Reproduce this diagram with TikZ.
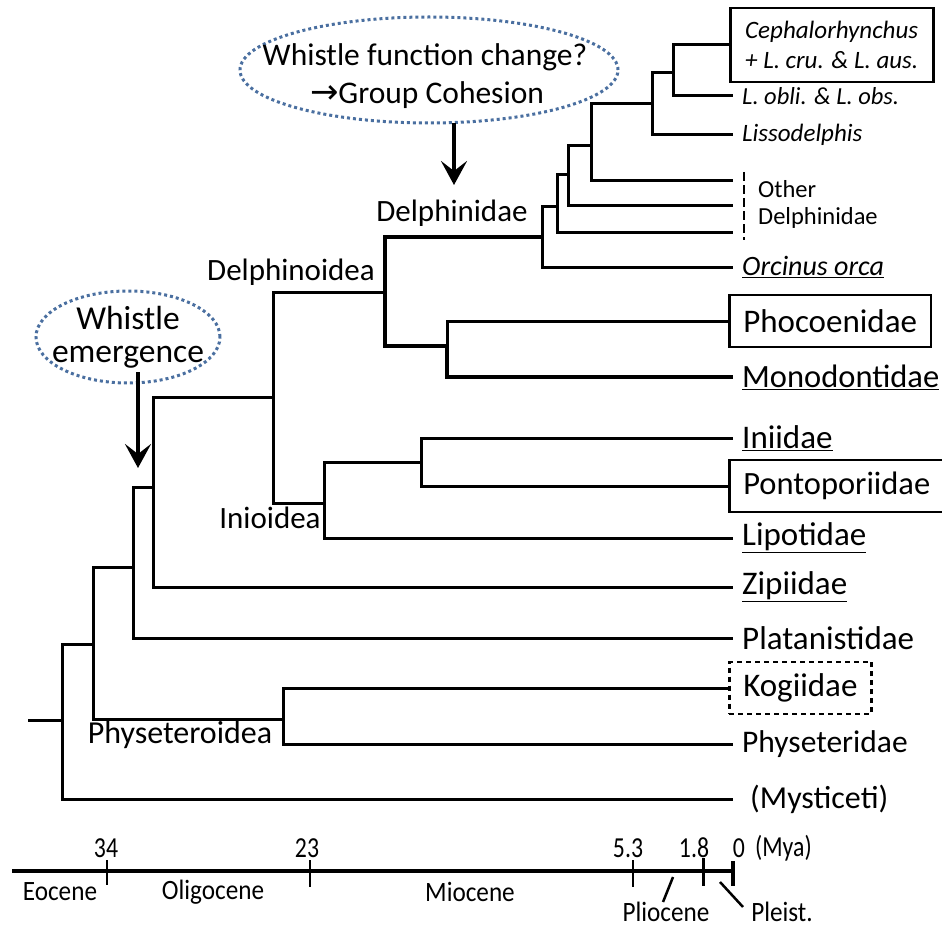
\documentclass[tikz,border=0pt]{standalone}
\usepackage{fontspec}
\usepackage{graphicx}
\setmainfont{Carlito}
\newfontfamily\djv{DejaVu Sans}
\usetikzlibrary{arrows.meta,shapes.geometric}
\definecolor{ellblue}{RGB}{74,111,160}
\newcommand{\ulx}[1]{\underline{#1}}
\begin{document}
\begin{tikzpicture}[x=1pt,y=-1pt,
  br/.style={line width=3pt, line join=miter},
  brk/.style={line width=4.5pt, line join=miter},
  lbl/.style={inner sep=0pt, font=\fontsize{31}{31}\selectfont},
  tipf/.style={anchor=west, inner xsep=9pt, inner ysep=0pt, font=\fontsize{33}{33}\selectfont},
  tips/.style={anchor=west, inner xsep=9pt, inner ysep=0pt, font=\fontsize{25}{25}\selectfont\itshape},
  boxf/.style={draw, line width=2.5pt, anchor=west, inner xsep=14pt, minimum height=52pt, font=\fontsize{33}{33}\selectfont},
  ell/.style={draw=ellblue, ellipse, line width=3pt, dash pattern=on 3pt off 3pt},
  bigarrow/.style={line width=4pt, -{Stealth[length=24pt, width=26pt, inset=10pt]}},
  axl/.style={inner sep=0pt, font=\fontsize{29}{29}\selectfont},
  epl/.style={inner sep=0pt, font=\fontsize{28}{28}\selectfont}]
\useasboundingbox (0,0) rectangle (942,928);

% internal nodes
\coordinate (root0) at (28,720);
\coordinate (R) at (62,720);
\coordinate (A) at (93,644);
\coordinate (P) at (283,719);
\coordinate (B) at (133,567);
\coordinate (C) at (153,487);
\coordinate (D) at (273,397);
\coordinate (E) at (385,292);
\coordinate (F) at (324,503);
\coordinate (G) at (542,237);
\coordinate (H) at (447,346);
\coordinate (I) at (421,462);
\coordinate (G1) at (557,207);
\coordinate (G2) at (568,175);
\coordinate (G3) at (591,146);
\coordinate (G4) at (652,104);
\coordinate (G5) at (673,73);
\coordinate (od1) at (733,232);
\coordinate (od2) at (733,206);
\coordinate (od3) at (733,181);

% tips
\node[draw, line width=2.5pt, anchor=west, minimum width=203pt, minimum height=74pt, align=left,
  font=\fontsize{25}{30}\selectfont\itshape] (ceph) at (729,45) {Cephalorhynchus\\+ L. cru. \& L. aus.};
\node[tips, font=\fontsize{24.5}{24.5}\selectfont\itshape] (lobli) at (733,96) {L. obli. \& L. obs.};
\node[tips] (liss) at (733,135) {Lissodelphis};
\node[tips, font=\fontsize{28}{28}\selectfont\itshape] (orca) at (733,267) {\ulx{Orcinus orca}};
\node[boxf] (phoc) at (728,321) {Phocoenidae};
\node[tipf, font=\fontsize{32.5}{32.5}\selectfont] (mono) at (733,377) {\ulx{Monodontidae}};
\node[tipf] (inii) at (733,438) {\ulx{Iniidae}};
\node[boxf, font=\fontsize{32.5}{32.5}\selectfont] (pont) at (728,486) {Pontoporiidae};
\node[tipf] (lipo) at (733,538) {\ulx{Lipotidae}};
\node[tipf] (zip) at (733,587) {\ulx{Zipiidae}};
\node[tipf] (plat) at (733,638) {Platanistidae};
\node[boxf, dash pattern=on 5pt off 4pt] (kog) at (728,688) {Kogiidae};
\node[tipf, font=\fontsize{31.5}{31.5}\selectfont] (phys) at (733,744) {Physeteridae};
\node[tipf, inner xsep=17pt, font=\fontsize{32}{32}\selectfont] (myst) at (733,799) {(Mysticeti)};

% other delphinidae bracket
\coordinate (brt) at (744,172);
\coordinate (brb) at (744,240);
\draw[line width=2.5pt, dash pattern=on 9pt off 4pt] (brt) -- (brb);
\node[anchor=west, inner sep=0pt, font=\fontsize{24.5}{24.5}\selectfont] (oth1) at (758,189) {Other};
\node[anchor=west, inner sep=0pt, font=\fontsize{24.5}{24.5}\selectfont] (oth2) at (758,218) {Delphinidae};

% branches
\draw[br] (root0) -- (R);
\draw[br] (R) |- (A);
\draw[br] (R) |- (myst.west);
\draw[br] (A) |- (B);
\draw[br] (A) |- (P);
\draw[br] (P) |- (kog.west);
\draw[br] (P) |- (phys.west);
\draw[br] (B) |- (C);
\draw[br] (B) |- (plat.west);
\draw[br] (C) |- (D);
\draw[br] (C) |- (zip.west);
\draw[br] (D) |- (E);
\draw[br] (D) |- (F);
\draw[brk] (E) |- (G);
\draw[brk] (E) |- (H);
\draw[br] (H) |- (phoc.west);
\draw[brk] (H) |- (mono.west);
\draw[br] (F) |- (I);
\draw[br] (F) |- (lipo.west);
\draw[br] (I) |- (inii.west);
\draw[br] (I) |- (pont.west);
\draw[br] (G) |- (G1);
\draw[br] (G) |- (orca.west);
\draw[br] (G1) |- (G2);
\draw[br] (G1) |- (od1);
\draw[br] (G2) |- (G3);
\draw[br] (G2) |- (od2);
\draw[br] (G3) |- (G4);
\draw[br] (G3) |- (od3);
\draw[br] (G4) |- (G5);
\draw[br] (G4) |- (liss.west);
\draw[br] (G5) |- (ceph.west);
\draw[br] (G5) |- (lobli.west);

% clade labels
\node[lbl] (ldelphinidae) at (452,213) {Delphinidae};
\node[lbl] (ldelphinoidea) at (291,272) {Delphinoidea};
\node[lbl] (linioidea) at (270,518) {Inioidea};
\node[lbl, font=\fontsize{32}{32}\selectfont] (lphyseteroidea) at (180,735) {Physeteroidea};

% ellipses
\node[ell, minimum width=184pt, minimum height=92pt] (e1) at (128,337) {};
\node[lbl, font=\fontsize{33.5}{33.5}\selectfont] (e1a) at (128,318) {Whistle};
\node[lbl, font=\fontsize{33.5}{33.5}\selectfont] (e1b) at (128,357) {emergence};
\coordinate (a1s) at (138,372);
\coordinate (a1e) at (138,468);
\draw[bigarrow] (a1s) -- (a1e);

\node[ell, minimum width=378pt, minimum height=106pt] (e2) at (429,70) {};
\node[lbl, font=\fontsize{31.5}{31.5}\selectfont] (e2a) at (425,57) {Whistle function change?};
\node[lbl, font=\fontsize{31.5}{31.5}\selectfont] (e2b) at (427,95) {{\djv\fontsize{34}{34}\selectfont →}Group Cohesion};
\coordinate (a2s) at (454,123);
\coordinate (a2e) at (454,185);
\draw[bigarrow] (a2s) -- (a2e);

% time axis
\coordinate (ax0) at (12,871);
\coordinate (ax1) at (733,871);
\draw[line width=4pt] (ax0) -- (ax1);
\draw[line width=2.5pt] (107,860) -- (107,885);
\draw[line width=2.5pt] (310,860) -- (310,887);
\draw[line width=2.5pt] (633,860) -- (633,887);
\draw[line width=3pt] (703,858) -- (703,886);
\draw[line width=4pt] (ax1) ++(0,-10) -- ++(0,25);
\node[axl] (n34) at (106,848) {\scalebox{0.82}[1]{34}};
\node[axl] (n23) at (307,848) {\scalebox{0.82}[1]{23}};
\node[axl] (n53) at (628,848) {\scalebox{0.82}[1]{5.3}};
\node[axl] (n18) at (694,848) {\scalebox{0.82}[1]{1.8}};
\node[axl] (n0) at (739,848) {\scalebox{0.82}[1]{0}};
\node[axl, anchor=west] (nmya) at (755,848) {\scalebox{0.82}[1]{(Mya)}};
\node[epl] (eoc) at (60,892) {\scalebox{0.9}[1]{Eocene}};
\node[epl] (oli) at (213,892) {\scalebox{0.9}[1]{Oligocene}};
\node[epl] (mio) at (470,892) {\scalebox{0.9}[1]{Miocene}};
\node[epl, anchor=base, text depth=0pt] (pli) at (666,921) {\scalebox{0.9}[1]{Pliocene}};
\node[epl, anchor=base, text depth=0pt] (ple) at (782,921) {\scalebox{0.9}[1]{Pleist.}};
\draw[line width=2.5pt] (673,877) -- (663,902);
\draw[line width=2.5pt] (720,882) -- (743,907);
\end{tikzpicture}
\end{document}
